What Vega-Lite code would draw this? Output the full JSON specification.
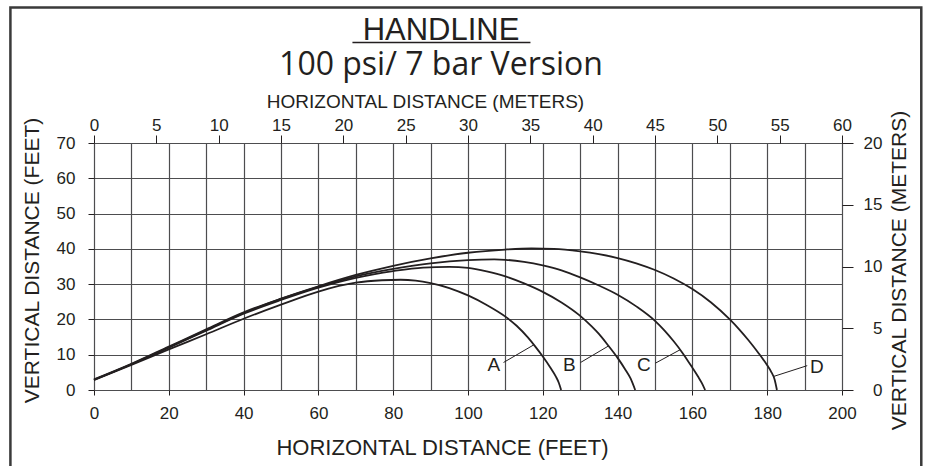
{
  "$schema": "https://vega.github.io/schema/vega-lite/v6.json",
  "width": 748,
  "height": 247,
  "autosize": "none",
  "padding": {"left": 94, "top": 143, "right": 85, "bottom": 76},
  "background": "white",
  "title": {
    "text": "HANDLINE",
    "subtitle": "100 psi/ 7 bar Version",
    "anchor": "middle",
    "frame": "group",
    "dx": -27,
    "offset": -76,
    "font": "Liberation Sans",
    "fontSize": 31,
    "fontWeight": "normal",
    "color": "#231f20",
    "subtitleFont": "Open Sans",
    "subtitleFontSize": 32,
    "subtitleColor": "#231f20",
    "subtitlePadding": 3
  },
  "config": {
    "view": {"stroke": null},
    "axis": {
      "labelFont": "Liberation Sans",
      "titleFont": "Liberation Sans",
      "labelColor": "#231f20",
      "titleColor": "#231f20",
      "tickColor": "#231f20",
      "labelFontSize": 17,
      "titleFontWeight": "normal",
      "domain": false
    }
  },
  "datasets": {
    "curves": [
      {"curve": "A", "x": 0, "y": 2.8}, {"curve": "A", "x": 10, "y": 7.1}, {"curve": "A", "x": 20, "y": 11.5}, {"curve": "A", "x": 30, "y": 15.8}, {"curve": "A", "x": 40, "y": 20.2}, {"curve": "A", "x": 50, "y": 24.2}, {"curve": "A", "x": 60, "y": 27.9}, {"curve": "A", "x": 70, "y": 30.4}, {"curve": "A", "x": 77, "y": 31.1}, {"curve": "A", "x": 82, "y": 31.25}, {"curve": "A", "x": 86, "y": 31.0}, {"curve": "A", "x": 90, "y": 30.3}, {"curve": "A", "x": 95, "y": 28.9}, {"curve": "A", "x": 100, "y": 26.8}, {"curve": "A", "x": 105, "y": 24.1}, {"curve": "A", "x": 110, "y": 20.8}, {"curve": "A", "x": 113, "y": 18.2}, {"curve": "A", "x": 116, "y": 14.9}, {"curve": "A", "x": 118, "y": 12.3}, {"curve": "A", "x": 120, "y": 9.5}, {"curve": "A", "x": 122, "y": 6.4}, {"curve": "A", "x": 123.5, "y": 3.8}, {"curve": "A", "x": 124.3, "y": 2.0}, {"curve": "A", "x": 124.9, "y": 0},
      {"curve": "B", "x": 0, "y": 2.9}, {"curve": "B", "x": 10, "y": 7.3}, {"curve": "B", "x": 20, "y": 12.0}, {"curve": "B", "x": 30, "y": 16.8}, {"curve": "B", "x": 40, "y": 21.6}, {"curve": "B", "x": 50, "y": 25.5}, {"curve": "B", "x": 60, "y": 29.0}, {"curve": "B", "x": 70, "y": 31.8}, {"curve": "B", "x": 80, "y": 33.7}, {"curve": "B", "x": 88, "y": 34.7}, {"curve": "B", "x": 95, "y": 34.9}, {"curve": "B", "x": 100, "y": 34.6}, {"curve": "B", "x": 105, "y": 33.6}, {"curve": "B", "x": 110, "y": 32.2}, {"curve": "B", "x": 115, "y": 30.2}, {"curve": "B", "x": 120, "y": 27.8}, {"curve": "B", "x": 125, "y": 24.8}, {"curve": "B", "x": 130, "y": 21.0}, {"curve": "B", "x": 133, "y": 18.1}, {"curve": "B", "x": 135, "y": 15.9}, {"curve": "B", "x": 137.5, "y": 12.6}, {"curve": "B", "x": 140, "y": 9.1}, {"curve": "B", "x": 142, "y": 5.9}, {"curve": "B", "x": 143.5, "y": 3.2}, {"curve": "B", "x": 144.7, "y": 0},
      {"curve": "C", "x": 0, "y": 2.9}, {"curve": "C", "x": 10, "y": 7.3}, {"curve": "C", "x": 20, "y": 12.1}, {"curve": "C", "x": 30, "y": 17.0}, {"curve": "C", "x": 40, "y": 21.8}, {"curve": "C", "x": 50, "y": 25.8}, {"curve": "C", "x": 60, "y": 29.2}, {"curve": "C", "x": 70, "y": 32.2}, {"curve": "C", "x": 80, "y": 34.3}, {"curve": "C", "x": 90, "y": 35.9}, {"curve": "C", "x": 100, "y": 36.8}, {"curve": "C", "x": 107, "y": 37.0}, {"curve": "C", "x": 110, "y": 36.9}, {"curve": "C", "x": 115, "y": 36.3}, {"curve": "C", "x": 120, "y": 35.3}, {"curve": "C", "x": 125, "y": 33.9}, {"curve": "C", "x": 130, "y": 31.9}, {"curve": "C", "x": 135, "y": 29.6}, {"curve": "C", "x": 140, "y": 27.0}, {"curve": "C", "x": 145, "y": 23.7}, {"curve": "C", "x": 150, "y": 19.6}, {"curve": "C", "x": 152.5, "y": 16.9}, {"curve": "C", "x": 155, "y": 13.8}, {"curve": "C", "x": 157.5, "y": 10.3}, {"curve": "C", "x": 160, "y": 6.3}, {"curve": "C", "x": 161.5, "y": 3.8}, {"curve": "C", "x": 162.5, "y": 2.0}, {"curve": "C", "x": 163.4, "y": 0},
      {"curve": "D", "x": 0, "y": 3.0}, {"curve": "D", "x": 10, "y": 7.4}, {"curve": "D", "x": 20, "y": 12.3}, {"curve": "D", "x": 30, "y": 17.2}, {"curve": "D", "x": 40, "y": 22.0}, {"curve": "D", "x": 50, "y": 25.9}, {"curve": "D", "x": 60, "y": 29.4}, {"curve": "D", "x": 70, "y": 32.6}, {"curve": "D", "x": 80, "y": 35.2}, {"curve": "D", "x": 90, "y": 37.3}, {"curve": "D", "x": 100, "y": 38.9}, {"curve": "D", "x": 110, "y": 39.8}, {"curve": "D", "x": 117, "y": 40.1}, {"curve": "D", "x": 123, "y": 40.0}, {"curve": "D", "x": 130, "y": 39.3}, {"curve": "D", "x": 135, "y": 38.5}, {"curve": "D", "x": 140, "y": 37.4}, {"curve": "D", "x": 145, "y": 35.9}, {"curve": "D", "x": 150, "y": 34.0}, {"curve": "D", "x": 155, "y": 31.6}, {"curve": "D", "x": 160, "y": 28.6}, {"curve": "D", "x": 165, "y": 24.8}, {"curve": "D", "x": 170, "y": 20.0}, {"curve": "D", "x": 172.5, "y": 17.2}, {"curve": "D", "x": 175, "y": 14.1}, {"curve": "D", "x": 177.5, "y": 10.7}, {"curve": "D", "x": 180, "y": 7.0}, {"curve": "D", "x": 181, "y": 5.3}, {"curve": "D", "x": 182, "y": 2.9}, {"curve": "D", "x": 182.6, "y": 0}
    ],
    "labels": [
      {"curve": "A", "x": 106.9, "y": 7.1},
      {"curve": "B", "x": 127.1, "y": 7.1},
      {"curve": "C", "x": 147.0, "y": 7.1},
      {"curve": "D", "x": 193.3, "y": 6.6}
    ],
    "leaders": [
      {"curve": "A", "x": 109.5, "y": 7.8, "x_end": 117.6, "y_end": 12.8},
      {"curve": "B", "x": 130.1, "y": 7.8, "x_end": 137.6, "y_end": 12.5},
      {"curve": "C", "x": 150.1, "y": 7.6, "x_end": 156.7, "y_end": 11.4},
      {"curve": "D", "x": 190.7, "y": 6.9, "x_end": 181.6, "y_end": 3.8}
    ],
    "meters": [
      {"m": 0, "mv": 0},
      {"m": 60, "mv": 20}
    ]
  },
  "layer": [
    {
      "data": {"values": [{}]},
      "mark": {"type": "rect", "fill": null, "stroke": "#3a3a3a", "strokeWidth": 2.5},
      "encoding": {
        "x": {"datum": -22.35, "type": "quantitative", "scale": {"domain": [0, 200], "nice": false, "zero": false}, "axis": null},
        "x2": {"datum": 221.2},
        "y": {"datum": 108.4, "type": "quantitative", "scale": {"domain": [0, 70], "nice": false, "zero": false}, "axis": null},
        "y2": {"datum": -25}
      }
    },
    {
      "data": {"values": [{}]},
      "mark": {"type": "rule", "stroke": "#231f20", "strokeWidth": 1.5},
      "encoding": {
        "x": {"datum": 69.1, "type": "quantitative", "scale": {"domain": [0, 200], "nice": false, "zero": false}, "axis": null},
        "x2": {"datum": 116.7},
        "y": {"datum": 98.5, "type": "quantitative", "scale": {"domain": [0, 70], "nice": false, "zero": false}, "axis": null}
      }
    },
    {
      "data": {"name": "curves"},
      "mark": {"type": "line", "interpolate": "monotone", "stroke": "#231f20", "strokeWidth": 1.8},
      "encoding": {
        "x": {
          "field": "x", "type": "quantitative",
          "title": "HORIZONTAL DISTANCE (FEET)",
          "scale": {"domain": [0, 200], "nice": false, "zero": false},
          "axis": {
            "orient": "bottom",
            "values": [0, 10, 20, 30, 40, 50, 60, 70, 80, 90, 100, 110, 120, 130, 140, 150, 160, 170, 180, 190, 200],
            "labelExpr": "datum.value % 20 === 0 ? datum.label : ''",
            "tickOpacity": {"condition": {"test": "datum.value % 20 === 0", "value": 1}, "value": 0},
            "tickSize": 5,
            "labelPadding": 10,
            "labelFlush": false,
            "labelOverlap": false,
            "grid": true,
            "gridColor": "#4d4d4f",
            "gridWidth": 1.2,
            "gridOpacity": 1,
            "titleFontSize": 22,
            "titleX": 348,
            "titleY": 64,
            "titleAlign": "center",
            "titleBaseline": "alphabetic"
          }
        },
        "y": {
          "field": "y", "type": "quantitative",
          "title": "VERTICAL DISTANCE (FEET)",
          "scale": {"domain": [0, 70], "nice": false, "zero": false},
          "axis": {
            "orient": "left",
            "values": [0, 10, 20, 30, 40, 50, 60, 70],
            "tickSize": 6,
            "labelPadding": 13,
            "labelFlush": false,
            "labelOverlap": false,
            "grid": true,
            "gridColor": "#4d4d4f",
            "gridWidth": 1.2,
            "gridOpacity": 1,
            "titleFontSize": 21,
            "titleAngle": 270,
            "titleX": -56,
            "titleY": 117,
            "titleAlign": "center",
            "titleBaseline": "alphabetic"
          }
        },
        "detail": {"field": "curve"}
      }
    },
    {
      "data": {"name": "leaders"},
      "mark": {"type": "rule", "stroke": "#231f20", "strokeWidth": 1},
      "encoding": {
        "x": {"field": "x", "type": "quantitative", "scale": {"domain": [0, 200], "nice": false, "zero": false}, "axis": null},
        "y": {"field": "y", "type": "quantitative", "scale": {"domain": [0, 70], "nice": false, "zero": false}, "axis": null},
        "x2": {"field": "x_end"},
        "y2": {"field": "y_end"}
      }
    },
    {
      "data": {"name": "labels"},
      "mark": {"type": "text", "font": "Liberation Sans", "fontSize": 19, "color": "#231f20", "align": "center", "baseline": "middle"},
      "encoding": {
        "x": {"field": "x", "type": "quantitative", "scale": {"domain": [0, 200], "nice": false, "zero": false}, "axis": null},
        "y": {"field": "y", "type": "quantitative", "scale": {"domain": [0, 70], "nice": false, "zero": false}, "axis": null},
        "text": {"field": "curve"}
      }
    },
    {
      "data": {"name": "meters"},
      "mark": {"type": "point", "opacity": 0},
      "encoding": {
        "x": {
          "field": "m", "type": "quantitative",
          "title": "HORIZONTAL DISTANCE (METERS)",
          "scale": {"domain": [0, 60], "nice": false, "zero": false},
          "axis": {
            "orient": "top",
            "values": [0, 5, 10, 15, 20, 25, 30, 35, 40, 45, 50, 55, 60],
            "tickSize": 8,
            "labelPadding": 1,
            "labelFlush": false,
            "labelOverlap": false,
            "grid": false,
            "titleFontSize": 19,
            "titleX": 331,
            "titleY": -35.5,
            "titleAlign": "center",
            "titleBaseline": "alphabetic"
          }
        },
        "y": {
          "field": "mv", "type": "quantitative",
          "title": "VERTICAL DISTANCE (METERS)",
          "scale": {"domain": [0, 20], "nice": false, "zero": false},
          "axis": {
            "orient": "right",
            "values": [0, 5, 10, 15, 20],
            "tickSize": 11,
            "labelPadding": 29,
            "labelAlign": "right",
            "labelFlush": false,
            "labelOverlap": false,
            "grid": false,
            "titleFontSize": 21,
            "titleAngle": 270,
            "titleX": 63,
            "titleY": 127,
            "titleAlign": "center",
            "titleBaseline": "alphabetic"
          }
        }
      }
    }
  ],
  "resolve": {
    "scale": {"x": "independent", "y": "independent"},
    "axis": {"x": "independent", "y": "independent"}
  }
}
